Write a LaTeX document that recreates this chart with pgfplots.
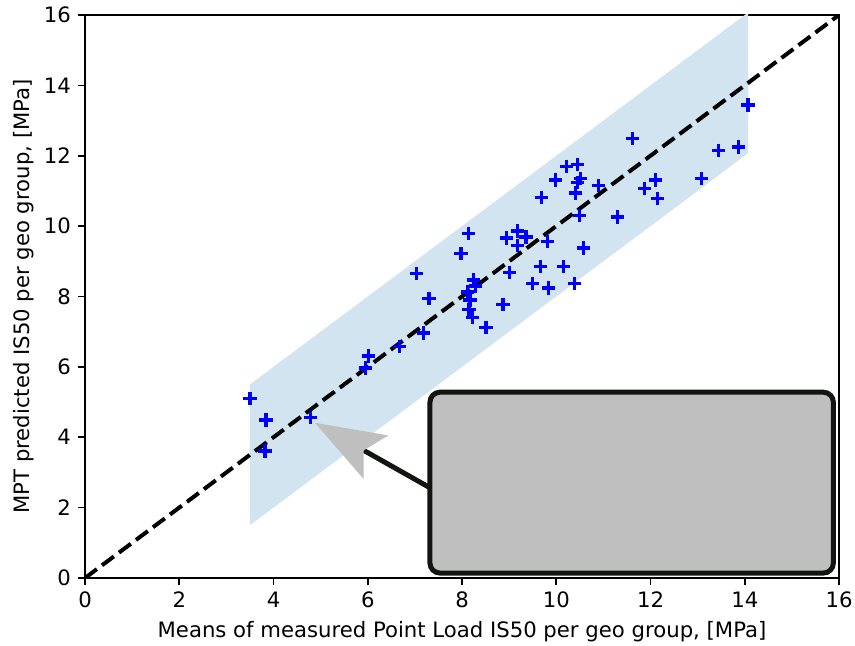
\documentclass[border=0pt]{standalone}
\usepackage{fontspec}
\setmainfont{DejaVu Sans}
\usepackage{pgfplots}
\pgfplotsset{compat=1.18}
\usetikzlibrary{arrows.meta,calc}
\definecolor{bandblue}{RGB}{210,228,240}
\definecolor{boxgray}{RGB}{191,191,191}
\definecolor{edgec}{RGB}{17,20,17}
\begin{document}
\begin{tikzpicture}
\begin{axis}[name=ax, scale only axis, width=377pt, height=281.5pt,
  xmin=0, xmax=16, ymin=0, ymax=16,
  xtick={0,2,...,16}, ytick={0,2,...,16},
  tick align=outside, tick pos=left, major tick length=3.5pt,
  every tick/.style={black, line width=0.8pt},
  axis line style={line width=0.8pt},
  /pgf/number format/assume math mode=true,
  tick label style={font=\fontsize{10.6}{12.5}\selectfont},
  label style={font=\fontsize{10.6}{12.5}\selectfont},
  xlabel={Means of measured Point Load IS50 per geo group, [MPa]},
  ylabel={MPT predicted IS50 per geo group, [MPa]},
  ylabel style={yshift=-2pt}]
\addplot[fill=bandblue, draw=none] coordinates {(3.5,1.5) (14.07,12.07) (14.07,16.07) (3.5,5.5) (3.5,1.5)};
\addplot[black, line width=2pt, dash pattern=on 7.4pt off 3.2pt] coordinates {(0,0) (16,16)};
\addplot[only marks, mark=+, mark size=3.3pt, blue, mark options={line width=1.6pt}] table {
x y
3.50 5.11
3.84 4.49
3.82 3.61
4.78 4.57
5.95 5.97
6.01 6.31
6.67 6.59
7.03 8.66
7.18 6.96
7.30 7.95
7.98 9.23
8.13 9.80
8.24 8.47
8.28 8.30
8.11 8.13
8.17 7.90
8.15 7.64
8.22 7.41
8.51 7.13
8.87 7.78
8.94 9.66
9.00 8.69
9.17 9.86
9.17 9.46
9.36 9.69
9.49 8.38
9.68 10.82
9.66 8.86
9.81 9.57
9.83 8.24
9.98 11.31
10.15 8.86
10.21 11.70
10.45 11.76
10.40 10.94
10.45 11.25
10.51 11.36
10.38 8.38
10.49 10.31
10.57 9.38
10.89 11.16
11.30 10.26
11.61 12.50
11.88 11.07
12.10 11.31
12.14 10.79
13.09 11.36
13.45 12.16
13.87 12.25
14.07 13.44
};
\draw[edgec, line width=2.5pt, -{Stealth[length=35pt, width=25pt, inset=7pt, color=boxgray, fill=boxgray, line width=0pt]}] (axis cs:7.3,2.58) -- (axis cs:4.88,4.41);
\draw[edgec, fill=boxgray, line width=2.5pt, rounded corners=5pt] (axis cs:7.32,0.14) rectangle (axis cs:15.88,5.28);
\end{axis}
\pgfresetboundingbox
\path ($(ax.south west)+(-42.5pt,-34pt)$) rectangle ($(ax.north east)+(8pt,7.5pt)$);
\end{tikzpicture}
\end{document}
